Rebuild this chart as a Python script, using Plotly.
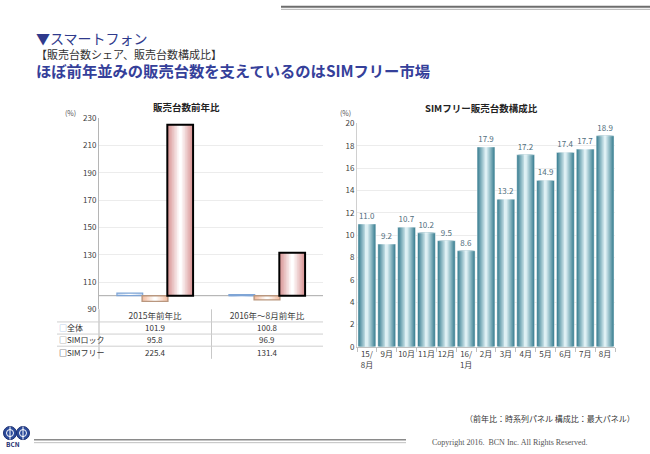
import plotly.graph_objects as go

W, H = 650, 454
JP = "Noto Sans CJK JP"

# 販売台数前年比 (%)
periods = ["2015年前年比", "2016年～8月前年比"]
zentai = [101.9, 100.8]
sim_lock = [95.8, 96.9]
sim_free = [225.4, 131.4]

# SIMフリー販売台数構成比 (%)
months = ["15/<br>8月", "9月", "10月", "11月", "12月", "16/<br>1月", "2月",
          "3月", "4月", "5月", "6月", "7月", "8月"]
share = [11.0, 9.2, 10.7, 10.2, 9.5, 8.6, 17.9, 13.2, 17.2, 14.9, 17.4, 17.7, 18.9]


def px(x):
    return x / W


def py(y):
    # the screenshot comes out ~8px lower and a bit squashed (470 -> 454),
    # so convert the wanted picture row into a figure row first
    yd = y * 470 / 454 - 8
    yd = min(max(yd, 0.5), H - 0.5)
    return 1 - yd / H


def mix(c1, c2, t):
    a = [int(c1[i:i + 2], 16) for i in (1, 3, 5)]
    b = [int(c2[i:i + 2], 16) for i in (1, 3, 5)]
    return "rgb(%d,%d,%d)" % tuple(round(a[i] + (b[i] - a[i]) * t) for i in range(3))


def gradient_bars(fig, x, y, base, center, width, edge, mid, line_color, line_width,
                  xa, ya, n=8, text=None):
    # excel-like horizontal gradient: stack narrower bars on top of each other
    for k in range(n):
        w = width * (1 - k / n)
        fig.add_trace(go.Bar(
            x=x, y=y, base=base, width=w, offset=center - w / 2,
            marker=dict(color=mix(edge, mid, k / (n - 1)), line=dict(width=0)),
            xaxis=xa, yaxis=ya, hoverinfo="skip"))
    fig.add_trace(go.Bar(
        x=x, y=y, base=base, width=width, offset=center - width / 2,
        marker=dict(color="rgba(0,0,0,0)", line=dict(color=line_color, width=line_width)),
        text=text, textposition="outside" if text else None, cliponaxis=False,
        textfont=dict(family=JP, size=8, color="#4f6e7c"),
        xaxis=xa, yaxis=ya, hoverinfo="skip"))


fig = go.Figure()

# left chart, bars start at the 100 line
bw = 0.23
series = [
    (zentai, -0.225, "#c7d9f0", "#ffffff", "#7fa5d6", 1.2),
    (sim_lock, 0.0, "#f4bfa3", "#ffffff", "#b9977f", 1.4),
    (sim_free, 0.225, "#d99595", "#ffffff", "#000000", 2),
]
for vals, c, edge, mid, lc, lw in series:
    gradient_bars(fig, periods, [v - 100 for v in vals], 100, c, bw, edge, mid, lc, lw, "x", "y")

# right chart
gradient_bars(fig, months, share, 0, 0.0, 0.9, "#3a7f92", "#def0f4", "#ffffff", 0.5,
              "x2", "y2", n=9, text=[f"{v:.1f}" for v in share])

tick_font = dict(family=JP, size=8, color="#404040")

fig.update_layout(
    width=W, height=H, margin=dict(l=0, r=0, t=0, b=0),
    paper_bgcolor="white", plot_bgcolor="white",
    showlegend=False, barmode="overlay",
    font=dict(family=JP),
    xaxis=dict(domain=[px(99), px(323)], type="category", range=[-0.5, 1.5],
               showline=False, ticks="", tickfont=dict(family=JP, size=8.5, color="#404040"),
               anchor="y", fixedrange=True),
    yaxis=dict(domain=[py(308), py(119)], range=[90, 230], tick0=90, dtick=20,
               showgrid=True, gridcolor="#ececec", zeroline=False,
               showline=True, linecolor="#b5b5b5", ticks="", tickfont=tick_font,
               anchor="x"),
    xaxis2=dict(domain=[px(357), px(615)], type="category", range=[-0.5, 12.5],
                showline=True, linecolor="#c0c0c0", ticks="outside", tickson="boundaries",
                ticklen=4, tickcolor="#c0c0c0", tickfont=tick_font, tickangle=0,
                anchor="y2"),
    yaxis2=dict(domain=[py(345), py(124)], range=[0, 20], dtick=2,
                showgrid=True, gridcolor="#ececec", zeroline=False,
                showline=True, linecolor="#d0d0d0", ticks="", tickfont=tick_font,
                anchor="x2"),
)


def hline(x0, x1, y, color, width):
    return dict(type="line", xref="paper", yref="paper", x0=px(x0), x1=px(x1),
                y0=py(y), y1=py(y), line=dict(color=color, width=width))


def vline(x, y0, y1, color, width):
    return dict(type="line", xref="paper", yref="paper", x0=px(x), x1=px(x),
                y0=py(y0), y1=py(y1), line=dict(color=color, width=width))


shapes = [
    # header double rule
    hline(281, 650, 8.5, "#6d6d6d", 2),
    hline(281, 650, 11, "#b0b0b0", 1),
    # footer double rule
    hline(34, 406, 437, "#8a8a8a", 1.5),
    hline(34, 406, 440, "#c0c0c0", 1),
    # 100 line of the left chart
    dict(type="line", xref="x domain", yref="y", x0=0, x1=1, y0=100, y1=100,
         line=dict(color="#a8a8a8", width=1), layer="below"),
    # data table grid
    vline(99, 308, 357, "#b5b5b5", 1),
    vline(211.5, 308, 357, "#c8c8c8", 1),
]
for yy in (320.5, 332.5, 344.5):
    shapes.append(hline(57, 323, yy, "#cfcfcf", 1))
# BCN logo: two globes
for cx in (10, 23):
    shapes.append(dict(type="circle", xref="paper", yref="paper",
                       x0=px(cx - 6.5), x1=px(cx + 6.5), y0=py(437), y1=py(424),
                       fillcolor="#2b4a9a", line=dict(color="#1c2f70", width=1)))
    shapes.append(dict(type="circle", xref="paper", yref="paper",
                       x0=px(cx - 3.5), x1=px(cx + 3.5), y0=py(434), y1=py(427),
                       line=dict(color="white", width=1)))
    shapes.append(vline(cx, 437, 424, "white", 1))
fig.update_layout(shapes=shapes)

ann = []


def text(x, y, s, size, color="#333333", anchor="left", family=JP, xref="paper"):
    ann.append(dict(x=x if xref != "paper" else px(x), y=py(y), xref=xref, yref="paper",
                    text=s, showarrow=False, xanchor=anchor, yanchor="middle",
                    font=dict(family=family, size=size, color=color)))


text(34, 39, "▼スマートフォン", 14, "#2f3a8c")
text(34, 55, "【販売台数シェア、販売台数構成比】", 11, "#333333")
text(34, 71, "<b>ほぼ前年並みの販売台数を支えているのはSIMフリー市場</b>", 15.3, "#35409a")

text(186, 108, "<b>販売台数前年比</b>", 9.5, "#222222", "center")
text(481, 109, "<b>SIMフリー販売台数構成比</b>", 9.5, "#222222", "center")
text(70, 114, "(%)", 7, "#555555", "center")
text(345, 114, "(%)", 7, "#555555", "center")

rows = [
    ("<span style='color:#7fa5d6'>□</span>全体", zentai, 326),
    ("<b><span style='color:#7a7a7a'>□</span></b>SIMロック", sim_lock, 338),
    ("<b><span style='color:#000000'>□</span></b>SIMフリー", sim_free, 350.5),
]
for label, vals, yy in rows:
    text(57, yy, label, 8, "#333333")
    for p, v in zip(periods, vals):
        text(p, yy, f"{v:.1f}", 8, "#333333", "center", xref="x")

text(637, 416, "（前年比：時系列パネル 構成比：最大パネル）", 8, "#333333", "right")
text(430, 440, "Copyright 2016.  BCN Inc. All Rights Reserved.", 8, "#555555",
     family="Liberation Serif")
text(13, 441.5, "<b>BCN</b>", 6.5, "#1c2f70", "center")

fig.update_layout(annotations=ann)

# pin the figure to the top-left corner of the window (no body margin, no scrolling)
pin = ("document.body.style.margin='0px';"
       "document.documentElement.style.overflow='hidden';"
       "var d=document.getElementById('{plot_id}');"
       "d.style.position='fixed';d.style.top='0px';d.style.left='0px';")
fig.write_html("out.html", config={"displayModeBar": False}, post_script=pin)
